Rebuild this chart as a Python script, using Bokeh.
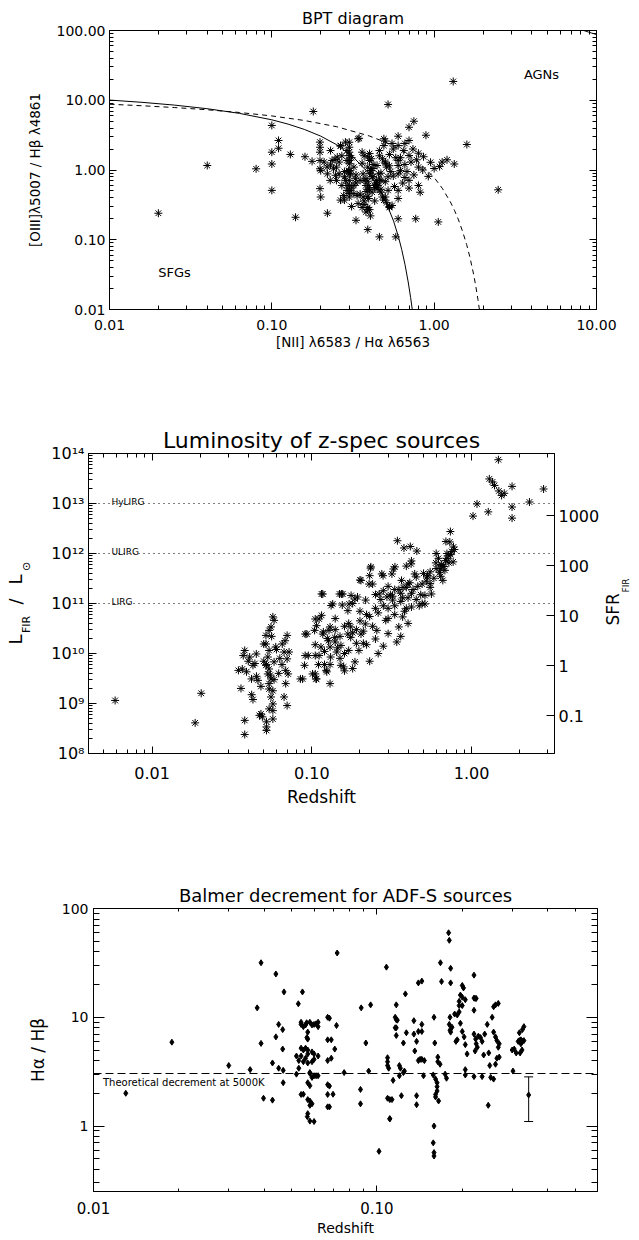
import math
from bokeh.plotting import figure
from bokeh.layouts import column
from bokeh.models import (Range1d, LogAxis, LogScale, FixedTicker, CustomJSTickFormatter,
                          Label, Span, Whisker, TeeHead, ColumnDataSource)
from bokeh.embed import file_html
from bokeh.resources import INLINE

FONT = "DejaVu Sans"

# ---------------- data: BPT diagram ----------------
bpt_nii = [0.020, 0.040, 0.080, 0.100, 0.100, 0.100, 0.100, 0.110, 0.110, 0.130, 0.140, 0.160, 0.180, 0.177, 0.220,
           0.520, 1.310, 0.750, 0.700, 0.890, 0.600, 0.345, 0.490, 1.590, 2.480, 1.060, 0.770, 0.600, 0.580, 0.460,
           0.390, 0.330, 1.200, 1.330, 1.080, 0.950, 0.920, 0.800, 0.800, 0.800, 0.820, 0.700, 0.700, 0.700, 0.600,
           0.600, 0.600, 0.600, 0.600, 0.600, 0.530, 0.500, 0.490, 0.500, 0.460, 0.520, 0.500, 0.550, 0.530,
           0.198, 0.198, 0.198, 0.198, 0.198, 0.200, 0.198, 0.200,
           0.219, 0.235, 0.240, 0.247, 0.229, 0.253, 0.265, 0.284, 0.290, 0.290, 0.297, 0.284, 0.290, 0.277, 0.305,
           0.270, 0.265, 0.327, 0.320, 0.335, 0.310,
           0.300, 0.300, 0.300, 0.300, 0.300, 0.300, 0.300, 0.300, 0.300, 0.300, 0.300, 0.300, 0.300,
           0.210, 0.230, 0.245, 0.250, 0.260, 0.270, 0.250, 0.280, 0.280, 0.265, 0.220, 0.320, 0.340, 0.330, 0.350,
           0.320, 0.290, 0.310,
           0.360, 0.370, 0.400, 0.390, 0.405, 0.365, 0.415, 0.370, 0.395, 0.430, 0.390, 0.415, 0.365, 0.395, 0.370,
           0.390, 0.405, 0.445, 0.455, 0.470, 0.440, 0.445, 0.470, 0.480, 0.490, 0.510, 0.530, 0.460, 0.480, 0.500,
           0.510, 0.540, 0.560, 0.580, 0.560, 0.550,
           0.400, 0.410, 0.420, 0.410, 0.400, 0.420, 0.390, 0.380, 0.400, 0.430, 0.380, 0.390, 0.370, 0.390, 0.380,
           0.400, 0.440, 0.450, 0.470, 0.360, 0.340,
           0.650, 0.660, 0.680, 0.720, 0.750, 0.780, 0.850, 0.640, 0.700, 0.620, 0.660, 0.740, 0.860, 1.000, 1.120,
           0.230, 0.260, 0.280, 0.310, 0.330, 0.360, 0.380, 0.420, 0.440, 0.470, 0.500, 0.530, 0.570, 0.620, 0.660,
           0.350, 0.390, 0.430, 0.460, 0.520]
bpt_oiii = [0.24, 1.16, 1.04, 4.35, 1.80, 1.22, 0.51, 2.65, 2.05, 1.67, 0.21, 1.55, 6.90, 1.33, 0.24,
            8.70, 18.6, 5.00, 4.10, 3.15, 3.05, 2.85, 2.80, 2.32, 0.52, 0.18, 0.20, 0.20, 0.11, 0.11,
            0.14, 0.19, 1.40, 1.22, 1.12, 1.29, 0.81, 1.74, 1.10, 0.60, 0.48, 1.61, 2.65, 0.71, 2.24,
            1.37, 1.16, 0.88, 0.51, 0.39, 1.67, 2.60, 2.24, 1.25, 0.72, 0.51, 0.41, 0.31, 0.29,
            2.51, 2.12, 1.80, 1.37, 1.04, 0.98, 0.54, 0.41,
            1.10, 1.37, 1.04, 0.84, 0.71, 1.53, 2.24, 2.51, 1.90, 1.37, 0.98, 0.71, 0.51, 0.43, 0.88,
            0.60, 0.37, 0.75, 0.60, 0.43, 0.30,
            2.50, 2.12, 1.80, 1.61, 1.37, 1.23, 0.98, 0.88, 0.71, 0.60, 0.51, 0.46, 0.41,
            1.30, 1.18, 1.42, 1.10, 0.88, 1.60, 0.71, 0.37, 0.80, 2.20, 0.88, 1.10, 2.80, 0.65, 0.71,
            0.46, 0.60, 0.55,
            1.80, 1.60, 1.37, 1.10, 0.98, 0.88, 0.80, 0.71, 0.60, 0.60, 0.53, 0.48, 0.41, 0.39, 0.32,
            0.27, 0.22, 1.16, 0.88, 0.71, 0.71, 0.53, 0.48, 0.41, 0.37, 0.34, 0.30, 1.60, 1.45, 1.30,
            1.10, 0.95, 0.82, 1.50, 2.00, 2.40,
            1.72, 1.45, 1.20, 0.98, 0.90, 0.80, 0.69, 0.60, 0.52, 0.56, 0.49, 0.42, 0.36, 0.29, 0.25,
            0.27, 0.65, 0.60, 0.53, 0.29, 0.33,
            1.90, 1.20, 0.95, 1.30, 0.85, 1.40, 1.00, 0.65, 0.55, 1.50, 2.40, 2.00, 1.55, 1.05, 1.30,
            1.90, 1.30, 0.95, 1.50, 0.85, 1.25, 0.75, 1.05, 0.62, 0.90, 0.68, 1.15, 0.58, 0.98, 0.78,
            0.45, 1.55, 0.36, 1.90, 0.80]

# demarcation curves (Kauffmann 2003 solid, Kewley 2001 dashed), sampled values
kauff_x = [0.01, 0.01585, 0.02512, 0.03981, 0.0631, 0.1, 0.1259, 0.1585, 0.1995, 0.2512, 0.3162, 0.3981,
           0.4467, 0.5012, 0.5623, 0.6026, 0.631, 0.6607, 0.6918, 0.7161, 0.7328, 0.7413]
kauff_y = [10.06, 9.34, 8.52, 7.57, 6.49, 5.24, 4.55, 3.82, 3.07, 2.30, 1.55, 0.880,
           0.596, 0.361, 0.185, 0.110, 0.0724, 0.0445, 0.0248, 0.01486, 0.01007, 0.00815]
kauff_up_x = [8.13, 8.32, 8.91, 9.33, 10.0]
kauff_up_y = [104.0, 100.3, 95.1, 91.9, 87.5]
kewley_x = [0.01, 0.01585, 0.02512, 0.03981, 0.0631, 0.1, 0.1585, 0.2512, 0.3981, 0.5012, 0.631, 0.7943,
            1.0, 1.122, 1.259, 1.334, 1.413, 1.496, 1.585, 1.660, 1.738, 1.799, 1.862, 1.905]
kewley_y = [8.77, 8.34, 7.86, 7.31, 6.68, 5.96, 5.13, 4.17, 3.08, 2.50, 1.90, 1.32,
            0.780, 0.547, 0.348, 0.264, 0.192, 0.132, 0.0853, 0.0562, 0.0345, 0.02254, 0.0138, 0.00954]

# ---------------- data: luminosity vs redshift ----------------
lum_z = [0.00587, 0.0203, 0.0186, 0.038, 0.038, 0.0428, 0.0347, 0.0372, 0.038, 0.0408, 0.0428, 0.0419, 0.0449,
         0.046, 0.039, 0.044, 0.0516, 0.0555, 0.058, 0.057, 0.0516, 0.054, 0.053, 0.0516, 0.054, 0.053, 0.0555,
         0.054, 0.054, 0.0555, 0.057, 0.054, 0.057, 0.047, 0.049, 0.052, 0.052, 0.052, 0.057, 0.050, 0.0594,
         0.058, 0.057, 0.0653, 0.067, 0.0686, 0.0686, 0.067, 0.070, 0.070, 0.071, 0.072, 0.070, 0.0848, 0.0908,
         0.0908, 0.090, 0.105, 0.107, 0.105, 0.115, 0.118, 0.13, 0.105, 0.107, 0.123, 0.127, 0.13, 0.139, 0.143,
         0.152, 0.158, 0.168, 0.175, 0.168, 0.171, 0.149, 0.115,
         0.0367, 0.048, 0.054, 0.0875, 0.093, 0.095, 0.101, 0.106, 0.117, 0.124, 0.135, 0.156, 0.186, 0.203,
         0.234, 0.24, 0.279, 0.264, 0.331, 0.372, 0.418, 0.44, 0.526, 0.644, 0.68, 0.766, 0.66, 0.56, 0.51,
         0.42, 0.37, 0.35, 0.29, 0.255, 0.25, 0.216, 0.203, 0.197, 0.186, 0.175, 0.17, 0.152, 0.14, 0.131,
         0.128, 0.117, 0.114, 0.111, 0.111, 0.104,
         0.27, 0.30, 0.32, 0.33, 0.36, 0.38, 0.40, 0.42, 0.45, 0.47, 0.30, 0.34, 0.36, 0.40, 0.28, 0.26, 0.23,
         0.21, 0.19, 0.22, 0.25, 0.20, 0.16, 0.14, 0.15, 0.18, 0.16, 0.13, 0.12,
         0.69, 0.343, 0.377, 0.413, 0.454, 0.597, 0.64, 0.687, 0.64, 0.42, 0.39, 0.324, 0.317, 0.274, 0.233,
         0.23, 0.20, 0.228, 0.25, 0.153, 0.176, 0.193, 0.132, 0.155, 0.18, 0.217, 0.295, 0.32, 0.364, 0.39,
         0.40, 0.45, 0.49, 0.53, 0.55, 0.55, 0.51, 0.49, 0.30, 0.33, 0.36, 0.28,
         1.47, 1.29, 1.35, 1.39, 1.48, 1.54, 1.60, 1.79, 2.82, 2.30, 1.08, 1.79, 1.79, 1.27, 1.02, 0.736,
         0.73, 0.77, 0.70, 0.72, 0.75, 0.78, 0.62, 0.60,
         0.105, 0.11, 0.12, 0.125, 0.13, 0.14, 0.145, 0.15, 0.16, 0.17, 0.18, 0.19, 0.20, 0.21, 0.22, 0.23,
         0.24, 0.26, 0.28, 0.30, 0.31, 0.33, 0.35, 0.37, 0.39, 0.41, 0.43, 0.46, 0.48, 0.50, 0.52, 0.55,
         0.58, 0.60, 0.63, 0.65, 0.67, 0.70, 0.72, 0.74,
         0.036, 0.040, 0.042, 0.045, 0.048, 0.050, 0.052, 0.055, 0.056, 0.058, 0.060, 0.062, 0.063, 0.065, 0.068]
lum_lfir = [1.15e9, 1.6e9, 4.1e8, 4.6e8, 2.4e8, 1.2e9, 4.6e9, 9.1e9, 1.15e10, 8.5e9, 5.8e9, 3.1e9, 9.8e9,
            2.9e9, 4.3e9, 6.3e9, 2.3e10, 3.4e10, 4.6e10, 5.4e10, 1.55e10, 1.15e10, 8.5e9, 5.8e9, 4.9e9, 3.9e9, 3.1e9,
            2.5e9, 1.95e9, 1.35e9, 9.8e8, 7.8e8, 7.2e8, 5.8e8, 5.4e8, 4.3e8, 3.4e8, 2.9e8, 4.9e8, 1.55e10, 1.35e10,
            6.8e9, 1.8e9, 1.55e10, 1.07e10, 4.6e9, 2.5e9, 1.35e9, 9.1e8, 2.3e10, 3.9e9, 1.07e10, 7.8e9, 3.1e9, 2.45e10,
            9.1e9, 5.8e9, 9.1e9, 3.6e10, 4.9e10, 5.8e10, 2.7e10, 3.4e10, 3.9e9, 3.1e9, 4.6e9, 1.8e10, 1.35e10, 2.1e10,
            1.07e10, 5.8e9, 5.4e9, 2.45e10, 3.4e10, 7.2e10, 9.8e10, 1.55e11, 1.55e11,
            4.9e9, 6.2e8, 2.9e10, 3.1e9, 2.45e10, 9.1e9, 3.9e9, 3.1e9, 1.55e11, 4.3e9, 9.8e10, 1.55e11, 1.23e11,
            2.9e11, 5.4e11, 2.45e11, 3.6e11, 1.55e11, 5.4e11, 2.1e11, 6.2e11, 3.9e11, 3.4e11, 5.8e11, 4.6e11,
            6.8e11, 2.9e11, 1.55e11, 9.8e10, 8.5e10, 5.4e10, 3.4e10, 4.6e10, 2.9e10, 1.95e10, 3.9e10, 2.45e10,
            1.15e10, 6.8e9, 2.1e10, 1.15e10, 1.45e10, 1.7e10, 8.5e9, 2.9e10, 2.45e10, 1.35e10, 9.1e9, 4.9e10, 2.9e10,
            1.2e11, 8.0e10, 1.4e11, 6.0e10, 1.1e11, 7.0e10, 1.3e11, 1.6e11, 1.2e11, 9.0e10, 2.5e10, 1.7e10, 2.2e10,
            4.0e10, 1.4e10, 1.0e10, 7.0e9, 1.6e10, 3.0e10, 6.0e10, 8.0e10, 7.0e10, 3.5e10, 5.0e10, 8.0e9, 5.0e9,
            4.5e9, 2.5e9, 6.0e9,
            1.74e12, 1.8e12, 1.29e12, 1.38e12, 1.12e12, 6.5e11, 4.9e11, 7.2e11, 3.5e11, 7.1e11, 5.6e11, 4.9e11,
            3.9e11, 3.9e11, 5.1e11, 3.6e11, 2.95e11, 2.45e11, 1.51e11, 1.55e11, 1.45e11, 1.35e11, 9.1e10, 9.3e10,
            1.0e11, 1.17e11, 1.35e11, 1.17e11, 2.9e11, 2.1e11, 2.45e11, 3.4e11, 2.45e11, 3.6e11, 4.3e11, 2.1e11,
            1.45e11, 1.0e11, 2.2e11, 1.9e11, 1.6e11, 1.8e11,
            7.5e13, 3.1e13, 2.7e13, 2.3e13, 1.78e13, 1.45e13, 1.6e13, 2.2e13, 1.95e13, 1.07e13, 9.8e12, 8.5e12,
            5.1e12, 6.8e12, 5.6e12, 2.75e12, 1.7e12, 1.35e12, 1.0e12, 9.0e11, 1.1e12, 1.2e12, 8.0e11, 1.0e12,
            1.5e10, 6.0e9, 1.1e10, 2.0e10, 6.0e9, 3.0e10, 1.3e10, 2.2e10, 1.0e10, 4.0e10, 2.6e10, 1.6e10, 4.5e10,
            2.8e10, 1.5e10, 5.5e10, 3.5e10, 6.5e10, 9.0e10, 5.0e10, 1.5e11, 9.0e10, 1.9e11, 1.3e11, 8.0e10, 2.6e11,
            1.9e11, 2.2e11, 1.5e11, 4.0e11, 2.8e11, 2.5e11, 3.2e11, 5.0e11, 4.2e11, 6.0e11, 5.5e11, 8.0e11, 6.5e11,
            9.5e11,
            2.0e9, 7.0e9, 1.5e9, 3.5e9, 2.2e9, 7.0e9, 6.0e9, 3.7e9, 2.2e10, 3.0e9, 1.2e10, 4.0e9, 8.0e9, 6.0e9, 1.8e10]
lirg_levels = [1e11, 1e12, 1e13]
lirg_names = ["LIRG", "ULIRG", "HyLIRG"]
SFR_PER_LSUN = 1.75e-10

# ---------------- data: Balmer decrement ----------------
bal_z = [0.039, 0.044, 0.047, 0.0546, 0.0724, 0.108, 0.126, 0.14, 0.144, 0.1675, 0.169, 0.179, 0.18, 0.182, 0.182,
         0.20, 0.202, 0.20, 0.22, 0.222, 0.224, 0.195,
         0.0189, 0.013, 0.030, 0.0357, 0.0378, 0.039, 0.0398, 0.0428, 0.0428, 0.044, 0.045, 0.0465, 0.045, 0.0467,
         0.0467, 0.0528, 0.053, 0.054, 0.055, 0.055, 0.0565, 0.059, 0.061, 0.0566, 0.056, 0.055, 0.057, 0.056,
         0.054, 0.058, 0.059, 0.061, 0.058, 0.058, 0.068, 0.069, 0.071, 0.069, 0.068, 0.070, 0.068, 0.072, 0.0766,
         0.0875, 0.088, 0.0914, 0.0875, 0.0935, 0.095, 0.109, 0.109, 0.109, 0.110, 0.109, 0.111, 0.113, 0.111,
         0.114, 0.117, 0.116, 0.117, 0.118, 0.116, 0.117, 0.117, 0.12, 0.121, 0.12, 0.122, 0.124, 0.125, 0.127,
         0.124, 0.135, 0.135, 0.136, 0.138, 0.138, 0.138, 0.14, 0.142, 0.144, 0.147, 0.14, 0.144, 0.144, 0.146,
         0.159, 0.16, 0.158, 0.161, 0.163, 0.163, 0.163, 0.161, 0.161, 0.165, 0.164, 0.164, 0.167, 0.174, 0.176,
         0.18, 0.181, 0.181, 0.182, 0.184, 0.19, 0.192, 0.192, 0.195, 0.2, 0.195, 0.205, 0.197, 0.188, 0.197, 0.2,
         0.203, 0.205, 0.208, 0.205, 0.205, 0.22, 0.22, 0.22, 0.223, 0.228, 0.232, 0.224, 0.226, 0.222, 0.22,
         0.235, 0.238, 0.235, 0.24, 0.245, 0.248, 0.25, 0.252, 0.247, 0.255, 0.258, 0.262, 0.268, 0.258, 0.262,
         0.265, 0.27, 0.268, 0.265, 0.27, 0.262, 0.258, 0.30, 0.305, 0.31, 0.302, 0.315, 0.318, 0.322, 0.326,
         0.33, 0.322, 0.318, 0.326, 0.33, 0.32, 0.325,
         0.0568, 0.058, 0.111, 0.1017, 0.159, 0.158, 0.159, 0.159,
         0.0465, 0.054, 0.056, 0.058, 0.060, 0.062, 0.062, 0.057, 0.057, 0.054, 0.057, 0.059, 0.060, 0.062, 0.052,
         0.053, 0.055, 0.057, 0.059, 0.060, 0.052, 0.058, 0.060, 0.062, 0.057, 0.058, 0.054, 0.057, 0.059, 0.057,
         0.060, 0.067, 0.067, 0.067, 0.067, 0.067, 0.067]
bal_ratio = [31.7, 25.0, 17.1, 17.1, 39.0, 28.9, 16.4, 20.7, 21.5, 31.7, 21.3, 59.8, 51.0, 28.2, 20.7,
             19.6, 18.6, 15.3, 24.4, 14.9, 14.9, 14.0,
             5.9, 2.0, 3.6, 3.3, 12.2, 5.75, 1.8, 1.73, 3.8, 6.6, 8.6, 5.1, 3.4, 3.25,
             2.5, 13.3, 3.4, 8.6, 1.96, 8.2, 8.9, 8.5, 8.7, 6.5, 5.2, 5.0, 4.6, 4.2,
             4.4, 3.1, 2.8, 2.9, 1.7, 1.55, 9.8, 6.2, 5.1, 4.2, 2.33, 1.96, 1.5, 8.4, 3.1,
             2.17, 12.2, 5.8, 1.6, 3.2, 13.0, 4.25, 3.9, 3.6, 3.4, 1.8, 1.75, 1.75, 1.17,
             2.63, 13.0, 10.0, 9.5, 9.4, 8.0, 8.0, 6.8, 3.6, 3.4, 2.9, 1.9, 3.1, 3.2, 7.2,
             5.8, 9.3, 7.0, 4.9, 6.0, 1.9, 1.57, 4.0, 4.1, 4.1, 4.0, 7.4, 7.4, 8.6, 2.9,
             10.0, 5.8, 2.95, 2.7, 2.5, 2.3, 2.1, 1.95, 1.85, 1.7, 4.3, 3.9, 3.7, 3.0, 2.75,
             8.6, 10.0, 7.6, 7.3, 8.1, 6.0, 6.2, 10.5, 11.2, 12.8, 12.8, 14.5, 16.0, 10.7, 8.8, 7.4,
             6.6, 5.6, 4.6, 3.3, 2.95, 15.0, 11.6, 7.0, 6.3, 6.7, 6.5, 5.7, 5.3, 4.9, 2.85,
             6.0, 4.5, 2.85, 7.0, 8.6, 4.7, 3.6, 2.8, 1.55, 10.0, 12.5, 13.0, 13.4, 7.3, 6.6,
             6.1, 5.7, 5.3, 4.2, 4.3, 3.7, 2.7, 5.0, 5.1, 4.7, 3.2, 6.0, 6.1, 6.2, 6.0,
             6.1, 5.7, 7.2, 7.7, 8.2, 4.7, 5.0,
             1.22, 1.11, 1.16, 0.585, 1.0, 0.70, 0.57, 0.53,
             7.7, 9.0, 8.5, 9.0, 8.6, 9.0, 8.2, 7.3, 6.3, 5.2, 5.0, 4.8, 4.6, 4.4, 4.4,
             4.0, 3.9, 3.8, 3.9, 4.1, 3.0, 3.05, 2.9, 2.9, 2.5, 2.35, 1.95, 1.75, 1.6, 1.3,
             1.1, 10.0, 6.2, 4.0, 2.4, 1.95, 1.5]
theory_decrement = 3.04
err_z = [0.343]
err_mid = [1.93]
err_lo = [1.10]
err_hi = [2.83]


# ---------------- helpers ----------------
def minors(lo_exp, hi_exp):
    return [k * 10.0 ** e for e in range(lo_exp, hi_exp) for k in range(2, 10)]


def style_axis(ax, fs, major_in, minor_in, standoff, formatter=None):
    ax.major_tick_in = major_in
    ax.major_tick_out = 0
    ax.minor_tick_in = minor_in
    ax.minor_tick_out = 0
    ax.axis_line_color = "black"
    ax.major_tick_line_color = "black"
    ax.minor_tick_line_color = "black"
    ax.major_label_text_font = FONT
    ax.major_label_text_font_size = f"{fs}px"
    ax.major_label_text_color = "black"
    ax.major_label_text_font_style = "normal"
    ax.major_label_standoff = standoff
    if formatter is not None:
        ax.formatter = formatter


def set_axis_label(ax, text, fs, standoff):
    ax.axis_label = text
    ax.axis_label_text_font = FONT
    ax.axis_label_text_font_size = f"{fs}px"
    ax.axis_label_text_font_style = "normal"
    ax.axis_label_text_color = "black"
    ax.axis_label_standoff = standoff


def blank():
    return CustomJSTickFormatter(code="return '';")


def fixed2():
    return CustomJSTickFormatter(code="return tick.toFixed(2);")


def text_axis(p, side, ticks, labels, fs, standoff, orient):
    """An axis without lines whose tick labels are the pieces of a rotated axis title."""
    code = "const L = %s; return L[index];" % (str(labels).replace("'", '"'))
    ax = LogAxis(ticker=FixedTicker(ticks=ticks, minor_ticks=[]), formatter=CustomJSTickFormatter(code=code))
    ax.axis_line_color = None
    ax.major_tick_line_color = None
    ax.minor_tick_line_color = None
    ax.major_tick_in = 0
    ax.major_tick_out = 0
    ax.minor_tick_in = 0
    ax.minor_tick_out = 0
    ax.major_label_text_font = FONT
    ax.major_label_text_font_size = f"{fs}px"
    ax.major_label_text_color = "black"
    ax.major_label_standoff = standoff
    ax.major_label_orientation = orient
    p.add_layout(ax, side)


def txt(p, x, y, text, size, align="center", baseline="middle", y_units="screen", y_offset=0):
    p.add_layout(Label(x=x, y=y, x_units="screen", y_units=y_units, text=text,
                       text_font=FONT, text_font_size=f"{size}px", text_color="black",
                       text_align=align, text_baseline=baseline, y_offset=y_offset))


def base_fig(title, tsize, tstand, width, height, xr, yr, left, right, top, bottom):
    p = figure(width=width, height=height, x_axis_type="log", y_axis_type="log",
               x_range=Range1d(*xr), y_range=Range1d(*yr), title=title,
               output_backend="svg", toolbar_location=None,
               min_border_left=left, min_border_right=right,
               min_border_top=top, min_border_bottom=bottom)
    if "frame_align" in p.properties():
        p.frame_align = False
    p.grid.visible = False
    p.outline_line_color = "black"
    p.background_fill_color = "white"
    p.border_fill_color = "white"
    p.title.align = "center"
    p.title.text_font = FONT
    p.title.text_font_size = f"{tsize}px"
    p.title.text_font_style = "normal"
    p.title.text_color = "black"
    p.title.standoff = tstand
    return p


W = 639

# ================= Panel 1: BPT =================
p1 = base_fig("BPT diagram", 16, 5, W, 400, (0.01, 10.0), (0.01, 100.0), 109, 43, 30, 91)
x1_t = FixedTicker(ticks=[0.01, 0.1, 1.0, 10.0], minor_ticks=minors(-2, 1))
y1_t = FixedTicker(ticks=[0.01, 0.1, 1.0, 10.0, 100.0], minor_ticks=minors(-2, 2))
p1.xaxis[0].ticker = x1_t
p1.yaxis[0].ticker = y1_t
style_axis(p1.xaxis[0], 14, 7, 4, 10, fixed2())
style_axis(p1.yaxis[0], 14, 7, 4, 4, fixed2())
set_axis_label(p1.xaxis[0], "[NII] \u03bb6583 / H\u03b1 \u03bb6563", 13.5, 1)
set_axis_label(p1.yaxis[0], "[OIII]\u03bb5007 / H\u03b2 \u03bb4861", 13.5, 11)
ax = LogAxis(ticker=x1_t)
style_axis(ax, 1, 7, 4, 0, blank())
p1.add_layout(ax, "above")
ax = LogAxis(ticker=y1_t)
style_axis(ax, 1, 7, 4, 0, blank())
p1.add_layout(ax, "right")

p1.line(kauff_x, kauff_y, line_color="black", line_width=1)
p1.line(kauff_up_x, kauff_up_y, line_color="black", line_width=1)
p1.line(kewley_x, kewley_y, line_color="black", line_width=1, line_dash="5 4")
p1.scatter(bpt_nii, bpt_oiii, marker="asterisk", size=8, line_color="black", line_width=1)

txt(p1, 432, 235, "AGNs", 13)
txt(p1, 65, 37, "SFGs", 13)

# ================= Panel 2: Luminosity =================
p2 = base_fig("Luminosity of z-spec sources", 22, 2, W, 418, (0.004, 3.3), (1e8, 1e14), 88, 76, 53, 65)
x2_t = FixedTicker(ticks=[0.01, 0.1, 1.0],
                   minor_ticks=[v for v in minors(-3, 1) if 0.004 < v < 3.3])
y2_t = FixedTicker(ticks=[1e8, 1e9, 1e10, 1e11, 1e12, 1e13, 1e14], minor_ticks=minors(8, 14))
p2.xaxis[0].ticker = x2_t
p2.yaxis[0].ticker = y2_t
style_axis(p2.xaxis[0], 16, 7, 4, 13, fixed2())
set_axis_label(p2.xaxis[0], "Redshift", 17, 5)
sup_fmt = CustomJSTickFormatter(code="""
const sup = {"0":"\u2070","1":"\u00b9","2":"\u00b2","3":"\u00b3","4":"\u2074","5":"\u2075","6":"\u2076","7":"\u2077","8":"\u2078","9":"\u2079"};
const e = Math.round(Math.log10(tick));
return "10" + String(e).split("").map(c => sup[c]).join("");
""")
style_axis(p2.yaxis[0], 16, 8, 4, 4, sup_fmt)
ax = LogAxis(ticker=x2_t)
style_axis(ax, 1, 7, 4, 0, blank())
p2.add_layout(ax, "above")

p2.extra_y_ranges = {"sfr": Range1d(1e8 * SFR_PER_LSUN, 1e14 * SFR_PER_LSUN)}
p2.extra_y_scales = {"sfr": LogScale()}
sfr_t = FixedTicker(ticks=[0.1, 1.0, 10.0, 100.0, 1000.0], minor_ticks=[])
ax = LogAxis(y_range_name="sfr", ticker=sfr_t)
style_axis(ax, 16, 8, 0, 4, CustomJSTickFormatter(code="return String(Math.round(tick*10)/10);"))
p2.add_layout(ax, "right")

# left title  L_FIR / L_sun  (subscripts nearer the frame, main glyphs outside)
text_axis(p2, "left", [3.80e10, 5.50e11], ["FIR", "\u2299"], 11, 15, "vertical")
text_axis(p2, "left", [1.905e10, 1.096e11, 3.02e11], ["L", "/", "L"], 18, -9, "vertical")
# right title  SFR_FIR  (reads upwards)
text_axis(p2, "right", [3.63e10], ["SFR"], 17, 11, math.pi / 2)
text_axis(p2, "right", [1.66e11], ["FIR"], 9, -10, math.pi / 2)

for lvl, name in zip(lirg_levels, lirg_names):
    p2.add_layout(Span(location=lvl, dimension="width", line_color="black",
                       line_width=1, line_dash="1 4"))
    txt(p2, 23, lvl, name, 9, align="left", baseline="alphabetic", y_units="data", y_offset=2)

p2.scatter(lum_z, lum_lfir, marker="asterisk", size=8, line_color="black", line_width=1)

# ================= Panel 3: Balmer decrement =================
p3 = base_fig("Balmer decrement for ADF-S sources", 18, 5, W, 421, (0.01, 0.6), (0.25, 100.0), 93, 42, 90, 48)
x3_t = FixedTicker(ticks=[0.01, 0.1], minor_ticks=[v for v in minors(-2, 0) if v < 0.6])
y3_t = FixedTicker(ticks=[1.0, 10.0, 100.0], minor_ticks=[v for v in minors(-1, 2) if v > 0.25])
p3.xaxis[0].ticker = x3_t
p3.yaxis[0].ticker = y3_t
style_axis(p3.xaxis[0], 15, 6, 3, 10, fixed2())
set_axis_label(p3.xaxis[0], "Redshift", 14, 3)
style_axis(p3.yaxis[0], 14, 11, 6, 5, CustomJSTickFormatter(code="return tick.toFixed(0);"))
set_axis_label(p3.yaxis[0], "H\u03b1 / H\u03b2", 17, 11)
ax = LogAxis(ticker=x3_t)
style_axis(ax, 1, 6, 3, 0, blank())
p3.add_layout(ax, "above")
ax = LogAxis(ticker=y3_t)
style_axis(ax, 1, 11, 6, 0, blank())
p3.add_layout(ax, "right")

p3.add_layout(Span(location=theory_decrement, dimension="width", line_color="black",
                   line_width=1, line_dash="8 4"))
p3.scatter(bal_z, bal_ratio, marker="diamond", size=6, fill_color="black", line_color="black")

err_src = ColumnDataSource(dict(z=err_z, mid=err_mid, lo=err_lo, hi=err_hi))
p3.add_layout(Whisker(source=err_src, base="z", upper="hi", lower="lo", dimension="height",
                      line_color="black", line_width=1,
                      upper_head=TeeHead(size=9, line_color="black"),
                      lower_head=TeeHead(size=9, line_color="black")))
p3.scatter("z", "mid", source=err_src, marker="diamond", size=6, fill_color="black", line_color="black")

txt(p3, 9.5, theory_decrement, "Theoretical decrement at 5000K", 10, align="left",
    baseline="top", y_units="data", y_offset=-3)

layout = column(p1, p2, p3, spacing=0)
open("out.html", "w").write(file_html(layout, INLINE))
